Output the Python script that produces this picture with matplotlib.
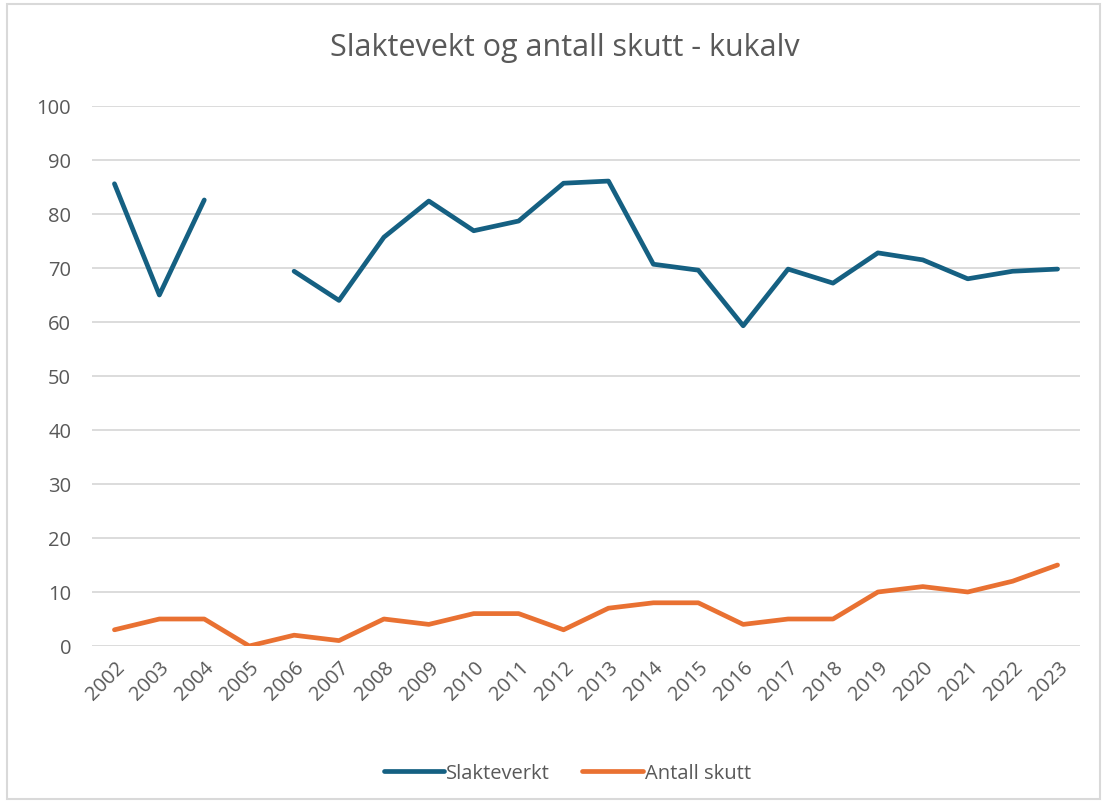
import matplotlib
matplotlib.use("Agg")
import matplotlib.pyplot as plt
import numpy as np
from matplotlib.patches import Rectangle

years = [str(y) for y in range(2002, 2024)]
slakteverkt = [85.6, 65.0, 82.6, np.nan, 69.4, 64.0, 75.7, 82.4, 76.9, 78.7, 85.7,
               86.1, 70.7, 69.6, 59.3, 69.8, 67.2, 72.8, 71.5, 68.0, 69.4, 69.8]
antall_skutt = [3, 5, 5, 0, 2, 1, 5, 4, 6, 6, 3, 7, 8, 8, 4, 5, 5, 10, 11, 10, 12, 15]

plt.rcParams['font.family'] = ['Open Sans', 'DejaVu Sans']
grey = '#595959'

fig = plt.figure(figsize=(11.04, 8.03), dpi=100)
fig.patches.append(Rectangle((0.006, 0.004), 0.99, 0.99, transform=fig.transFigure,
                             fill=False, edgecolor='#d9d9d9', linewidth=1.5))
ax = fig.add_axes([92/1104, 1-647/803, (1080-92)/1104, (647-107)/803])

x = np.arange(len(years))
ax.plot(x, slakteverkt, color='#156082', linewidth=3.4, solid_capstyle='round',
        solid_joinstyle='round', label='Slakteverkt', zorder=3)
ax.plot(x, antall_skutt, color='#E97132', linewidth=3.4, solid_capstyle='round',
        solid_joinstyle='round', label='Antall skutt', zorder=3)

ax.set_xlim(-0.5, len(years) - 0.5)
ax.set_ylim(0, 100)
ax.set_yticks(range(0, 101, 10))
ax.set_xticks(x)
ax.set_xticklabels(years, rotation=45, ha='right', rotation_mode='anchor')
ax.grid(axis='y', color='#d9d9d9', linewidth=1.3, zorder=0)
ax.set_axisbelow(True)
for s in ax.spines.values():
    s.set_visible(False)
ax.tick_params(axis='both', length=0, colors=grey, labelsize=14.5)
ax.tick_params(axis='y', pad=15)
ax.tick_params(axis='x', pad=8)

fig.text(0.512, 0.94, 'Slaktevekt og antall skutt - kukalv', ha='center', va='center',
         fontsize=22, color=grey)

leg = fig.legend(loc='center', bbox_to_anchor=(0.514, 0.036), ncol=2, frameon=False,
                 fontsize=14.5, handlelength=3.0, handletextpad=0.1, columnspacing=1.6)
for t in leg.get_texts():
    t.set_color(grey)

fig.savefig('out.png', dpi=100)
